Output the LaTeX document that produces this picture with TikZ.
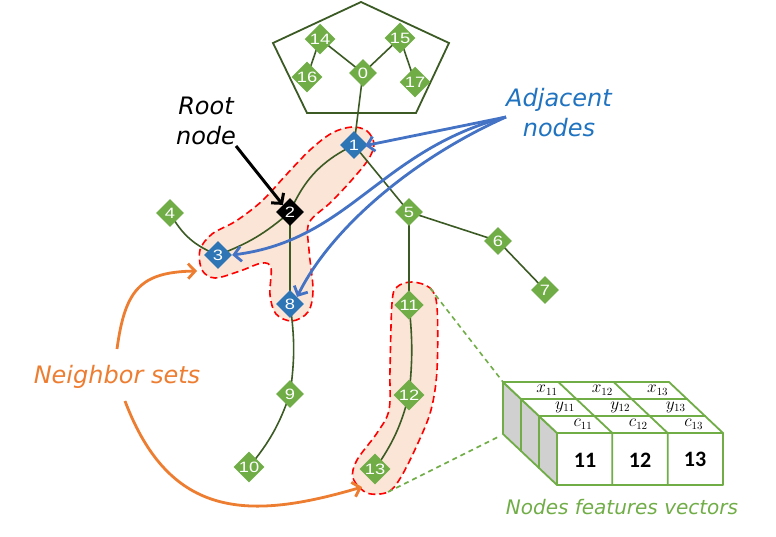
\documentclass[tikz,border=0pt]{standalone}
\usepackage{graphicx}
\usepackage{fontspec}
\setmainfont{Liberation Sans}
\newfontfamily\hand{DejaVu Sans}
\newfontfamily\calib{Carlito}
\usetikzlibrary{shapes.geometric,arrows.meta}
\definecolor{ngreen}{HTML}{70AD47}
\definecolor{nblue}{HTML}{2E75B6}
\definecolor{egreen}{HTML}{3B5A24}
\definecolor{peach}{HTML}{FBE5D6}
\definecolor{abluetext}{HTML}{1F73C0}
\definecolor{ablue}{HTML}{4472C4}
\definecolor{orng}{HTML}{ED7D31}
\definecolor{cgray}{HTML}{D0D0D0}
\newcommand{\dlab}[1]{\scalebox{1.22}[1]{#1}}
\begin{document}
\begin{tikzpicture}[x=1pt,y=-1pt,
  gnode/.style={diamond, fill=ngreen, minimum size=28pt, inner sep=0pt, text=white, font=\fontsize{15}{15}\selectfont},
  bnode/.style={gnode, fill=nblue},
  knode/.style={gnode, fill=black},
  edge/.style={egreen, line width=1.6pt},
  blob/.style={draw=red, fill=peach, line width=1.6pt, dash pattern=on 7pt off 4pt},
  barrow/.style={ablue, line width=2.8pt, -{Straight Barb[length=7pt,width=15pt]}},
  oarrow/.style={orng, line width=2.8pt, -{Straight Barb[length=7pt,width=15pt]}},
  handtext/.style={font=\hand\itshape\fontsize{24}{30}\selectfont, align=center},
  cube/.style={draw=ngreen, line width=1.8pt, line join=round},
  gdash/.style={ngreen, line width=1.6pt, dash pattern=on 5pt off 4pt}]
\useasboundingbox (0,0) rectangle (776,536);

% blobs
\draw[blob] plot[smooth cycle, tension=0.55] coordinates {(352,127) (367,131) (374,144) (368,160) (350,182) (330,203) (309,223) (309,250) (313,290) (308,312) (292,321) (276,314) (270,295) (271,268) (262,263) (240,271) (215,278) (202,270) (200,250) (212,234) (236,221) (262,201) (286,175) (310,150) (332,133)};
\draw[blob] plot[smooth cycle, tension=0.55] coordinates {(412,282) (430,288) (437,307) (437,370) (431,410) (418,443) (401,477) (388,492) (367,493) (353,478) (357,460) (377,433) (389,410) (390,370) (392,303) (397,287)};

% pentagon
\draw[egreen, line width=1.8pt, line join=miter] (361,2) -- (449,43) -- (416,113) -- (307,113) -- (273,43) -- cycle;

% node positions (names)
\coordinate (n0) at (363,73);
\coordinate (n14) at (320,39);
\coordinate (n15) at (400,38);
\coordinate (n16) at (307,77);
\coordinate (n17) at (415,82);
\coordinate (n1) at (354,145);
\coordinate (n2) at (290,212);
\coordinate (n3) at (218,255);
\coordinate (n4) at (170,213);
\coordinate (n5) at (409,212);
\coordinate (n6) at (498,241);
\coordinate (n7) at (545,290);
\coordinate (n8) at (290,304);
\coordinate (n9) at (290,394);
\coordinate (n10) at (249,467);
\coordinate (n11) at (409,305);
\coordinate (n12) at (409,395);
\coordinate (n13) at (375,469);

% edges
\draw[edge] (n14) -- (n16);
\draw[edge] (n14) -- (n0);
\draw[edge] (n0) -- (n15);
\draw[edge] (n15) -- (n17);
\draw[edge] (n0) -- (n1);
\draw[edge] (n1) to[bend right=20] (n2);
\draw[edge] (n2) to[bend left=10] (n3);
\draw[edge] (n3) to[bend left=20] (n4);
\draw[edge] (n1) -- (n5);
\draw[edge] (n5) -- (n6);
\draw[edge] (n6) -- (n7);
\draw[edge] (n5) -- (n11);
\draw[edge] (n2) -- (n8);
\draw[edge] (n8) to[bend left=8] (n9);
\draw[edge] (n9) to[bend left=10] (n10);
\draw[edge] (n11) to[bend left=6] (n12);
\draw[edge] (n12) to[bend left=10] (n13);

% nodes
\node[gnode] (d0) at (n0) {\dlab{0}};
\node[gnode] (d14) at (n14) {\dlab{14}};
\node[gnode] (d15) at (n15) {\dlab{15}};
\node[gnode] (d16) at (n16) {\dlab{16}};
\node[gnode] (d17) at (n17) {\dlab{17}};
\node[bnode] (d1) at (n1) {\dlab{1}};
\node[knode] (d2) at (n2) {\dlab{2}};
\node[bnode] (d3) at (n3) {\dlab{3}};
\node[gnode] (d4) at (n4) {\dlab{4}};
\node[gnode] (d5) at (n5) {\dlab{5}};
\node[gnode] (d6) at (n6) {\dlab{6}};
\node[gnode] (d7) at (n7) {\dlab{7}};
\node[bnode] (d8) at (n8) {\dlab{8}};
\node[gnode] (d9) at (n9) {\dlab{9}};
\node[gnode] (d10) at (n10) {\dlab{10}};
\node[gnode] (d11) at (n11) {\dlab{11}};
\node[gnode] (d12) at (n12) {\dlab{12}};
\node[gnode] (d13) at (n13) {\dlab{13}};

% labels
\node[handtext] (root) at (206,121) {Root\\node};
\node[handtext, text=abluetext] (adjl) at (559,113) {Adjacent\\nodes};
\node[handtext, text=orng] (nbl) at (117,377) {Neighbor sets};
\node[font=\hand\itshape\fontsize{20}{24}\selectfont, text=ngreen] (nfv) at (622,507) {Nodes features vectors};

% arrows
\coordinate (adj) at (506,117);
\draw[barrow, shorten >=-3pt] (adj) -- (d1.east);
\draw[barrow] (adj) .. controls (380,150) and (350,240) .. (d3.east);
\draw[barrow] (adj) .. controls (410,160) and (330,230) .. (d8.north east);
\coordinate (ra) at (236,146);
\draw[black, line width=3pt, -{Straight Barb[length=7pt,width=16pt]}] (ra) -- (d2.north west);
\coordinate (ns1) at (117,349);
\coordinate (ne1) at (197,271);
\coordinate (ns2) at (125,401);
\coordinate (ne2) at (362,487);
\draw[oarrow] (ns1) .. controls (125,290) and (140,272) .. (ne1);
\draw[oarrow] (ns2) .. controls (170,520) and (250,520) .. (ne2);

% dashed guide lines
\coordinate (g1a) at (430,288);
\coordinate (g1b) at (503,382);
\coordinate (g2a) at (388,492);
\coordinate (g2b) at (500,436);
\draw[gdash] (g1a) -- (g1b);
\draw[gdash] (g2a) -- (g2b);

% cube
\foreach \k/\lab in {0/x,1/y,2/c}{
  \pgfmathsetmacro\fx{521+18*\k}
  \pgfmathsetmacro\fy{399+17*\k}
  \filldraw[cube, fill=cgray] (\fx,\fy) -- (\fx-18,\fy-17) -- (\fx-18,\fy+35) -- (\fx,\fy+52) -- cycle;
  \filldraw[cube, fill=white] (\fx,\fy) -- (\fx+166,\fy) -- (\fx+148,\fy-17) -- (\fx-18,\fy-17) -- cycle;
  \filldraw[cube, fill=white] (\fx,\fy) rectangle (\fx+166,\fy+52);
  \foreach \i in {1,2}{
    \draw[cube] (\fx+55.33*\i,\fy+52) -- (\fx+55.33*\i,\fy) -- (\fx+55.33*\i-18,\fy-17);
  }
  \foreach \i/\j in {0/1,1/2,2/3}{
    \node[font=\fontsize{16}{16}\selectfont, inner sep=0pt] (lab\k\i) at (\fx+26+55.33*\i,\fy-9) {$\lab_{1\j}$};
  }
}
\node[font=\calib\bfseries\fontsize{22}{22}\selectfont] (v11) at (585,460) {11};
\node[font=\calib\bfseries\fontsize{22}{22}\selectfont] (v12) at (640,460) {12};
\node[font=\calib\bfseries\fontsize{22}{22}\selectfont] (v13) at (695,459) {13};
\end{tikzpicture}
\end{document}
